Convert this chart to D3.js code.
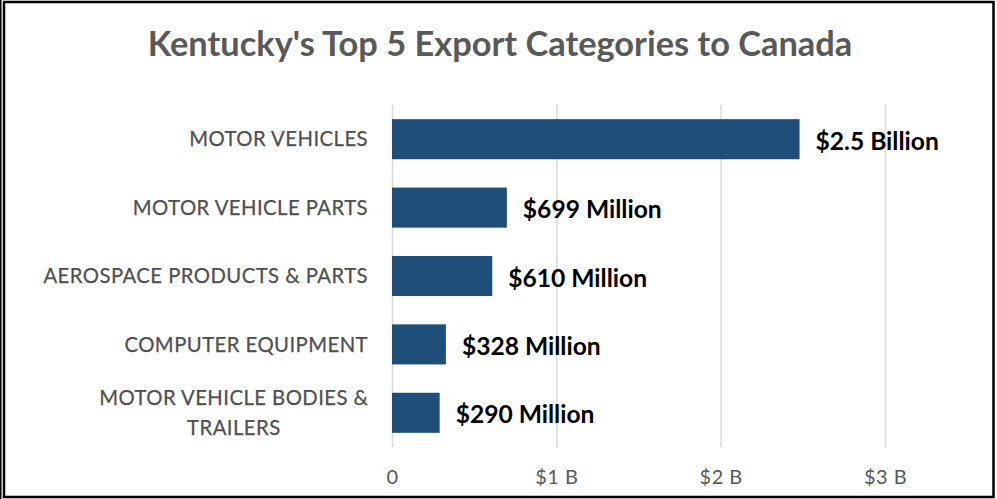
<!DOCTYPE html>
<html>
<head>
<meta charset="utf-8">
<script src="https://cdn.jsdelivr.net/npm/d3@7"></script>
<style>
  html, body { margin: 0; padding: 0; background: #fff; }
  svg { display: block; }
</style>
</head>
<body>
<svg id="chart" width="997" height="499"></svg>
<script>
const title = "Kentucky's Top 5 Export Categories to Canada";
const categories = [
  ["MOTOR VEHICLES"],
  ["MOTOR VEHICLE PARTS"],
  ["AEROSPACE PRODUCTS & PARTS"],
  ["COMPUTER EQUIPMENT"],
  ["MOTOR VEHICLE BODIES &", "TRAILERS"]
];
const valuesBillion = [2.48, 0.699, 0.610, 0.328, 0.290];
const dataLabels = ["$2.5 Billion", "$699 Million", "$610 Million", "$328 Million", "$290 Million"];
const tickValues = [0, 1, 2, 3];
const tickLabels = ["0", "$1 B", "$2 B", "$3 B"];

const svg = d3.select("#chart");
const W = 997, H = 499;
const grey = "#595959";
const barColor = "#1f4e79";
const font = "Lato, 'Open Sans', sans-serif";

svg.append("rect").attr("width", W).attr("height", H).attr("fill", "#fff");

// frame
svg.append("line").attr("x1", 0.75).attr("x2", 0.75).attr("y1", 0).attr("y2", H)
  .attr("stroke", "#000").attr("stroke-width", 1.5);
svg.append("rect").attr("x", 4).attr("y", 2).attr("width", 989.5).attr("height", 495)
  .attr("fill", "none").attr("stroke", "#000").attr("stroke-width", 2.5);

const x = d3.scaleLinear().domain([0, 3]).range([392, 885]);
const y = d3.scaleBand().domain(d3.range(categories.length)).range([105, 447])
  .paddingInner(0.414).paddingOuter(0.207);

// title
svg.append("text").attr("x", 500).attr("y", 56).attr("text-anchor", "middle")
  .attr("font-family", font).attr("font-weight", 700)
  .attr("font-size", 34.4).attr("fill", grey).text(title);

// gridlines
svg.append("g").selectAll("line").data(tickValues).join("line")
  .attr("x1", d => x(d) + 0.5).attr("x2", d => x(d) + 0.5)
  .attr("y1", 105).attr("y2", 447)
  .attr("stroke", "#d9d9d9").attr("stroke-width", 1.5);

// x axis labels
const xAxis = d3.axisBottom(x).tickValues(tickValues).tickSize(0).tickPadding(0)
  .tickFormat((d, i) => tickLabels[i]);
const gx = svg.append("g").attr("transform", "translate(0,470)").call(xAxis);
gx.select(".domain").remove();
gx.selectAll("text").attr("font-family", font)
  .attr("font-size", 20).attr("fill", grey).attr("dy", "0.71em")
  .attr("letter-spacing", 0.5);

// bars
svg.append("g").selectAll("rect").data(valuesBillion).join("rect")
  .attr("x", x(0)).attr("y", (d, i) => y(i))
  .attr("width", d => x(d) - x(0)).attr("height", y.bandwidth())
  .attr("fill", barColor);

// data labels
svg.append("g").selectAll("text").data(valuesBillion).join("text")
  .attr("x", d => x(d) + 16).attr("y", (d, i) => y(i) + y.bandwidth() / 2 + 2)
  .attr("dy", "0.35em")
  .attr("font-family", font).attr("font-weight", 700)
  .attr("font-size", 24.6).attr("fill", "#000")
  .text((d, i) => dataLabels[i]);

// category labels (multi-line block right-aligned, lines centred)
const labelRight = 368;
const cat = svg.append("g").selectAll("text").data(categories).join("text")
  .attr("font-family", font)
  .attr("font-size", 20.3).attr("fill", "#505050").attr("letter-spacing", 0.45)
  .attr("stroke", "#505050").attr("stroke-width", 0.25)
  .attr("y", (d, i) => y(i) + y.bandwidth() / 2 - (d.length - 1) * 15);
cat.selectAll("tspan").data(d => d).join("tspan")
  .attr("dy", (d, j) => j === 0 ? "0.35em" : 30)
  .text(d => d);
cat.each(function(d) {
  const t = d3.select(this);
  if (d.length === 1) {
    t.attr("text-anchor", "end").selectAll("tspan").attr("x", labelRight);
  } else {
    const widths = [];
    t.selectAll("tspan").each(function() { widths.push(this.getComputedTextLength()); });
    const cx = labelRight - d3.max(widths) / 2;
    t.attr("text-anchor", "middle").selectAll("tspan").attr("x", cx);
  }
});
</script>
</body>
</html>
